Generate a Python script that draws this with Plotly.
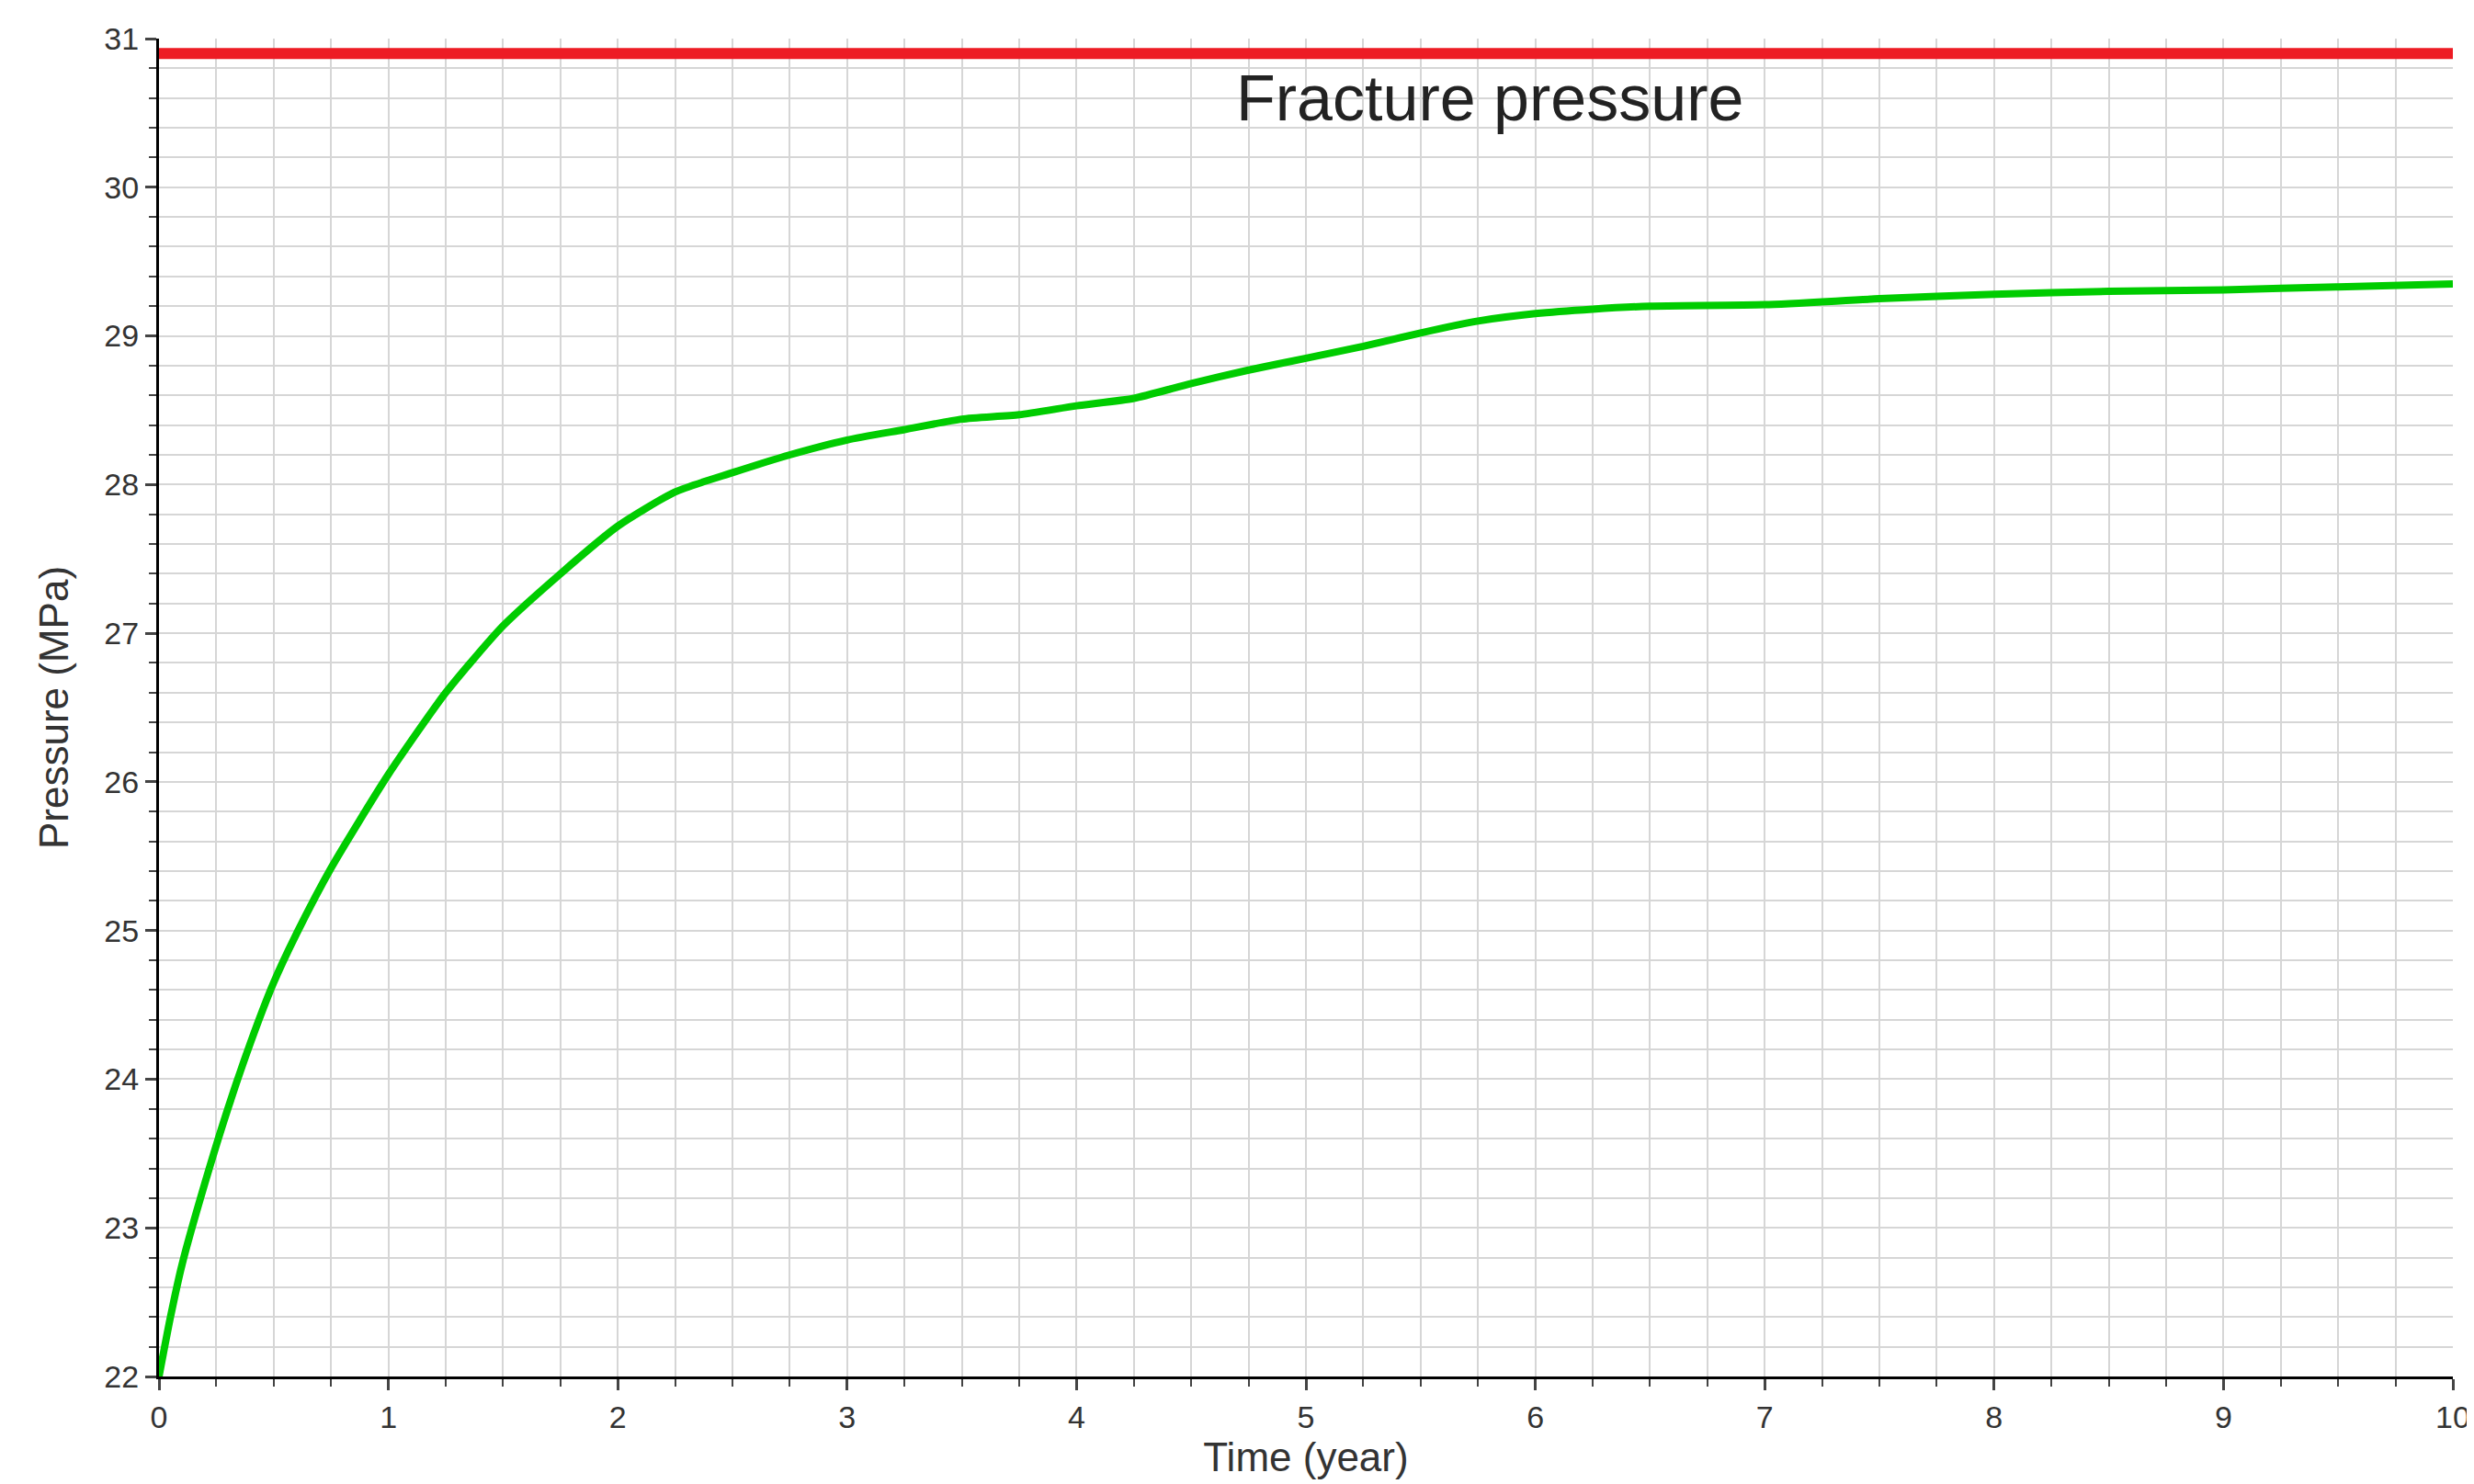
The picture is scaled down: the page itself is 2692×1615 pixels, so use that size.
import plotly.graph_objects as go

time_year = [0, 0.05, 0.1, 0.2, 0.3, 0.4, 0.5, 0.6, 0.75, 1.0, 1.25, 1.5, 1.75, 2.0, 2.25,
             2.5, 2.75, 3.0, 3.25, 3.5, 3.75, 4.0, 4.25, 4.5, 4.75, 5.0, 5.25, 5.5, 5.75,
             6.0, 6.25, 6.5, 7.0, 7.5, 8.0, 8.5, 9.0, 9.5, 10.0]
pressure = [22.0, 22.4, 22.75, 23.3, 23.8, 24.25, 24.65, 24.98, 25.42, 26.05, 26.6, 27.05,
            27.4, 27.72, 27.95, 28.08, 28.2, 28.3, 28.37, 28.44, 28.47, 28.53, 28.58,
            28.68, 28.77, 28.85, 28.93, 29.02, 29.1, 29.15, 29.18, 29.2, 29.21, 29.25,
            29.28, 29.3, 29.31, 29.33, 29.35]
fracture_x = [0, 10]
fracture_p = [30.9, 30.9]

fig = go.Figure([
    go.Scatter(x=fracture_x, y=fracture_p, mode="lines", line=dict(color="#ed1c24", width=12)),
    go.Scatter(x=time_year, y=pressure, mode="lines",
               line=dict(color="#00cc00", width=8, shape="spline", smoothing=0.6)),
])

tickfont = dict(family="Liberation Sans Narrow, Liberation Sans", size=34, color="#333")
grid = dict(showgrid=True, gridcolor="#d6d6d6", gridwidth=2)
fig.update_xaxes(range=[0, 10], dtick=1, tickfont=tickfont, showline=True, linecolor="black",
                 linewidth=3, ticks="outside", ticklen=12, tickwidth=3,
                 minor=dict(dtick=0.25, ticks="outside", ticklen=8, tickwidth=2, **grid),
                 zeroline=False, **grid,
                 title=dict(text="Time (year)", font=dict(family="Liberation Sans", size=44, color="#333"),
                            standoff=2))
fig.update_yaxes(range=[22, 31], dtick=1, tickfont=tickfont, showline=True, linecolor="black",
                 linewidth=3, ticks="outside", ticklen=12, tickwidth=3,
                 minor=dict(dtick=0.2, ticks="outside", ticklen=8, tickwidth=2, **grid),
                 zeroline=False, **grid,
                 title=dict(text="Pressure (MPa)", font=dict(family="Liberation Sans", size=44, color="#333"),
                            standoff=25))

fig.add_annotation(x=5.8, y=30.6, text="Fracture pressure", showarrow=False,
                   font=dict(family="Liberation Sans", size=70, color="#222"))

fig.update_layout(width=2692, height=1615, showlegend=False,
                  plot_bgcolor="white", paper_bgcolor="white",
                  margin=dict(l=165, r=31, t=34, b=125))

fig.write_html("out.html")
